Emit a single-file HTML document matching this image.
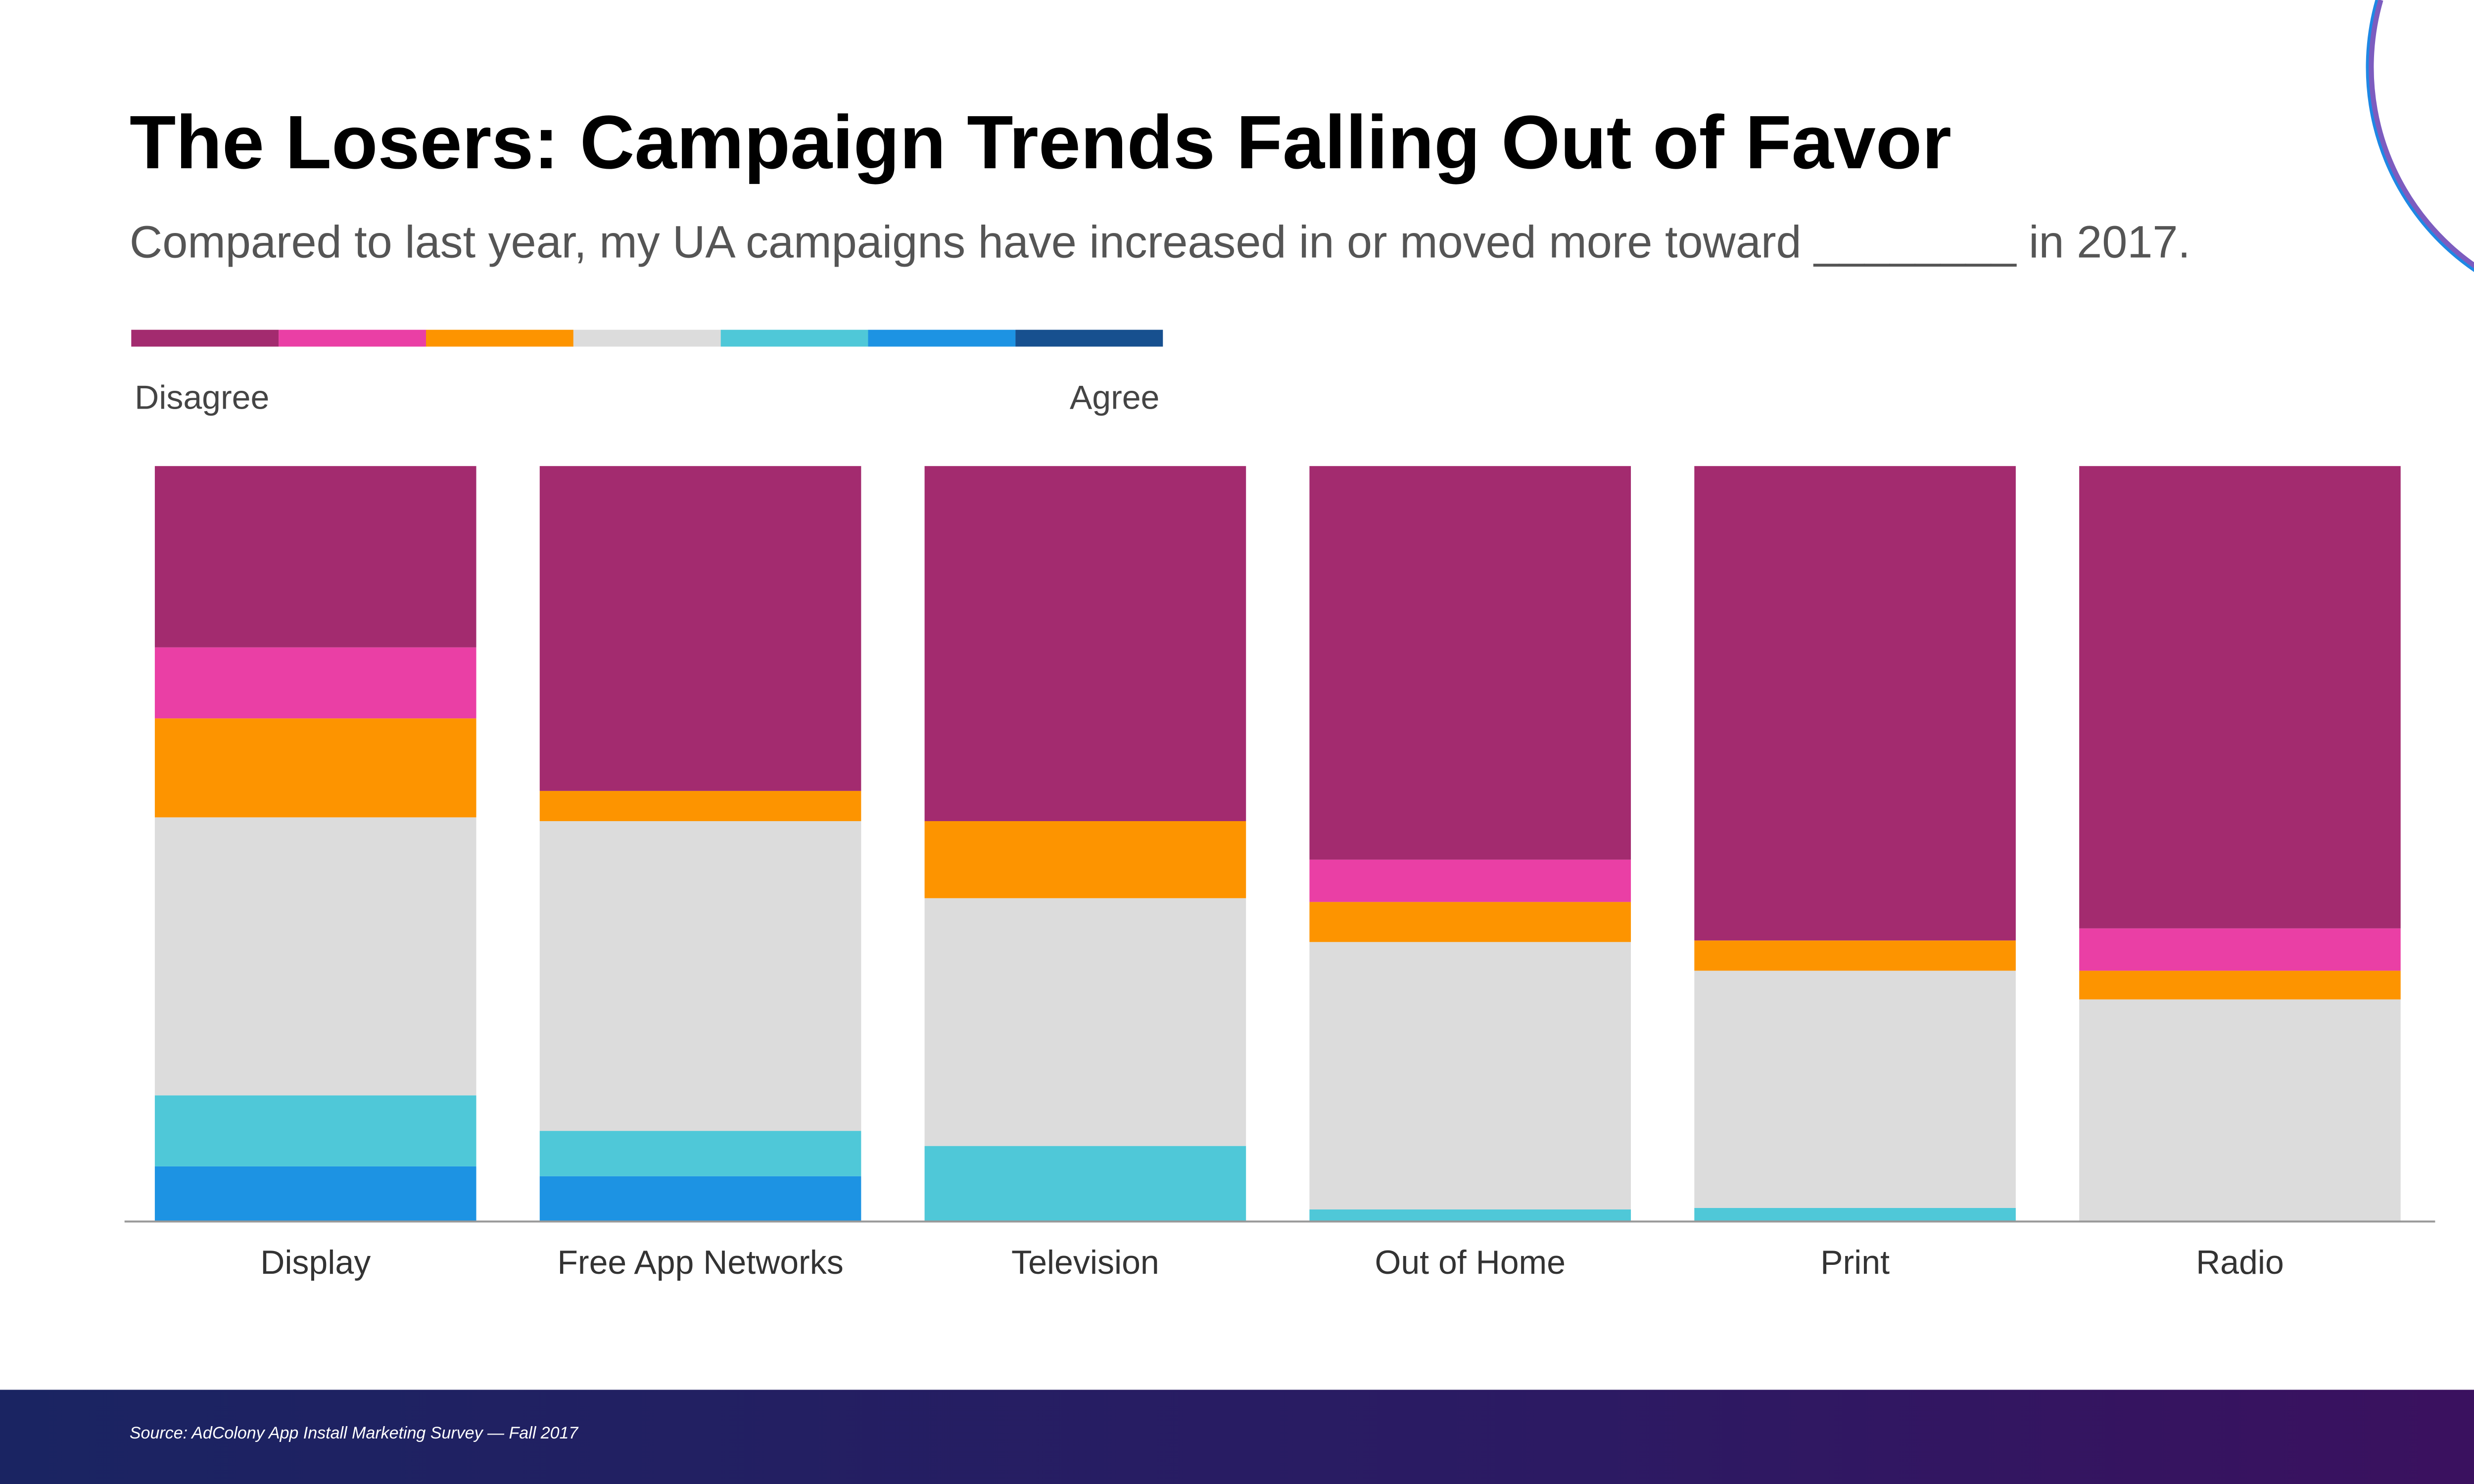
<!DOCTYPE html>
<html><head><meta charset="utf-8"><style>
html,body{margin:0;padding:0;background:#fff;overflow:hidden;width:5333px;height:3000px;}
svg{display:block;overflow:hidden;}
text{font-family:"Liberation Sans",sans-serif;}
</style></head><body>
<svg id="chart" width="5333" height="3000" viewBox="0 0 1568 882" preserveAspectRatio="none" xmlns="http://www.w3.org/2000/svg">
<defs>
<linearGradient id="foot" x1="0" y1="0" x2="1" y2="0"><stop offset="0" stop-color="#1a2462"/><stop offset="0.6" stop-color="#2c1a63"/><stop offset="1" stop-color="#3d0f5e"/></linearGradient>
</defs>
<rect width="1568" height="882" fill="#fff"/>
<g fill="none">
<path d="M1412.7 0 A146 146 0 0 0 1550 186" stroke="#1e88e5" stroke-width="2.5"/>
<path d="M1414.7 0 A144 144 0 0 0 1568 183.2" stroke="#7c5cbf" stroke-width="3"/>
</g>
<g fill="#111">
<path d="M1537 43 L1503 70 L1493 88 L1485 110 L1481 121 L1497 103 L1508 96 L1521 80 Z"/>
<path d="M1495 59 C1478 68 1476 92 1490 104 L1486 96 C1481 84 1483 70 1495 59 Z"/>
</g>
<text x="77" y="100" font-size="45" font-weight="bold" fill="#000">The Losers: Campaign Trends Falling Out of Favor</text>
<text x="77" y="153" font-size="27" fill="#555">Compared to last year, my UA campaigns have increased in or moved more toward ________ in 2017.</text>
<g id="legend"></g>
<text x="80" y="243" font-size="20" fill="#444">Disagree</text>
<text x="689" y="243" font-size="20" fill="#444" text-anchor="end">Agree</text>
<g id="bars"></g>
<line x1="74" y1="726" x2="1447" y2="726" stroke="#999" stroke-width="1.2"/>
<g id="xlabels"></g>
<rect x="0" y="826" width="1568" height="56" fill="url(#foot)"/>
<text x="77" y="855" font-size="10" font-style="italic" fill="#fff">Source:  AdColony App Install Marketing Survey — Fall 2017</text>
<text x="1525" y="853" font-size="13" fill="#ccc" text-anchor="end">9</text>
</svg>
<script>
const categories = ["Display","Free App Networks","Television","Out of Home","Print","Radio"];
const seriesNames = ["Strongly disagree","Disagree","Somewhat disagree","Neutral","Somewhat agree","Agree","Strongly agree"];
const stronglyDisagree = [24.0, 43.0, 47.0, 52.1, 62.8, 61.2];
const disagree         = [9.4, 0, 0, 5.6, 0, 5.6];
const somewhatDisagree = [13.1, 4.0, 10.2, 5.3, 4.0, 3.8];
const neutral          = [36.8, 41.0, 32.8, 35.4, 31.4, 29.4];
const somewhatAgree    = [9.4, 6.0, 10.0, 1.6, 1.8, 0];
const agree            = [7.3, 6.0, 0, 0, 0, 0];
const stronglyAgree    = [0, 0, 0, 0, 0, 0];
const colors = ["#a32b6f","#ea3fa5","#fd9400","#dcdcdc","#4fc8d8","#1d93e3","#17508f"];
const NS="http://www.w3.org/2000/svg";
const series=[stronglyDisagree,disagree,somewhatDisagree,neutral,somewhatAgree,agree,stronglyAgree];
const top0=277, base=726, plotL=78, slot=228.7, barW=191;
function yScale(v){return base-(v/100)*(base-top0);}
function xBand(i){return plotL+14+i*slot;}
const legend=document.getElementById('legend');
colors.forEach((c,i)=>{
  const r=document.createElementNS(NS,'rect');
  r.setAttribute('x',78+i*87.57);r.setAttribute('y',196);r.setAttribute('width',87.6);r.setAttribute('height',10);r.setAttribute('fill',c);
  
  
  legend.appendChild(r);
});
const bars=document.getElementById('bars');
const xl=document.getElementById('xlabels');
categories.forEach((cat,i)=>{
  const tot=series.reduce((a,s)=>a+s[i],0);
  let cum=0;
  for(let k=series.length-1;k>=0;k--){
    const v=series[k][i]/tot*100;
    if(v<=0)continue;
    const y1=yScale(cum), y2=yScale(cum+v);
    const r=document.createElementNS(NS,'rect');
    r.setAttribute('x',xBand(i));r.setAttribute('width',barW);
    r.setAttribute('y',y2);r.setAttribute('height',y1-y2);r.setAttribute('fill',colors[k]);
    
    
    bars.appendChild(r);
    cum+=v;
  }
  const t=document.createElementNS(NS,'text');
  t.setAttribute('x',xBand(i)+barW/2);t.setAttribute('y',757);t.setAttribute('font-size',20);
  t.setAttribute('fill','#333');t.setAttribute('text-anchor','middle');t.textContent=cat;
  
  
  xl.appendChild(t);
});
</script>
</body></html>
